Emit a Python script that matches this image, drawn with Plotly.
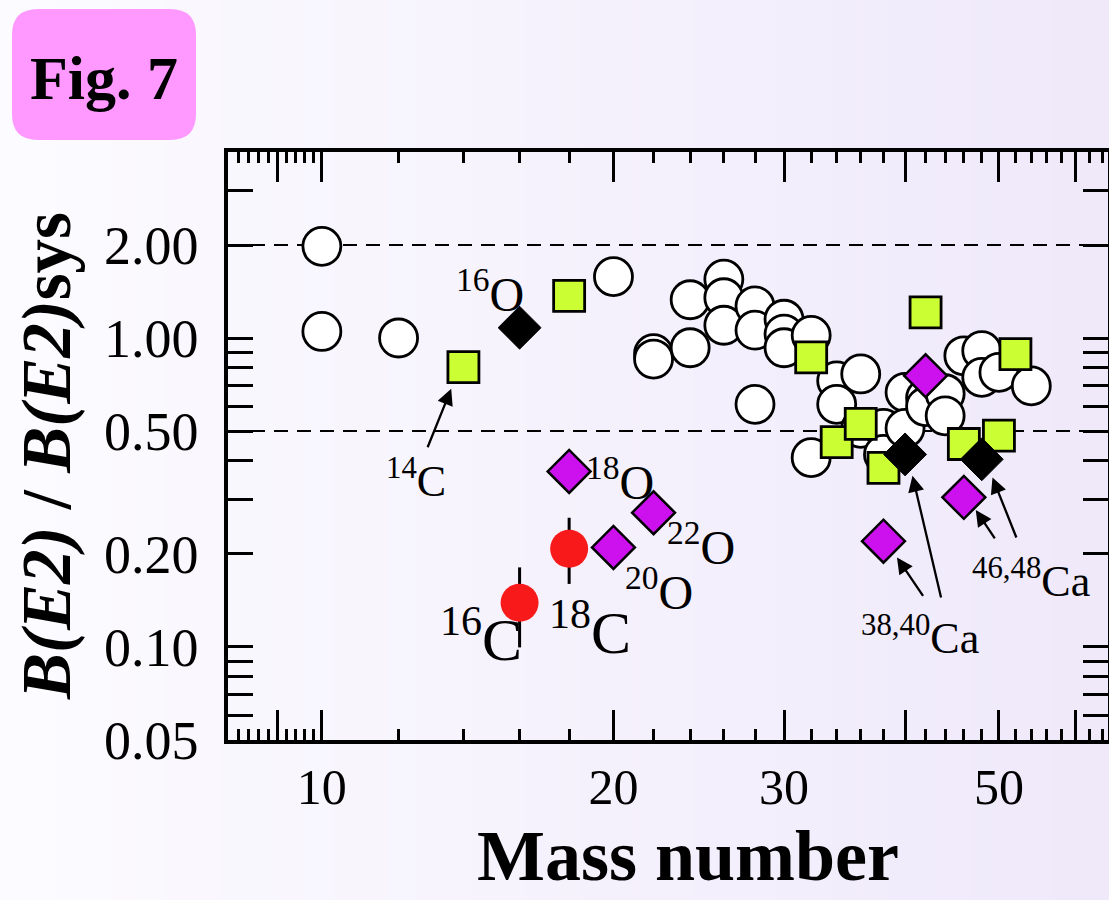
import math
import plotly.graph_objects as go

# ---------------- data ----------------
circle_A = [10, 10, 12, 20, 22, 22, 24, 24, 26, 26, 26, 28, 28, 28, 30, 30, 30,
            32, 32, 34, 34, 36, 36, 38, 38, 40, 40, 42, 42, 44, 44, 46, 48, 48, 50, 54]
circle_R = [1.98, 1.05, 1.00, 1.58, 0.89, 0.855, 1.33, 0.93, 1.55, 1.35, 1.10, 1.27, 1.06, 0.61,
            1.15, 1.03, 0.93, 1.02, 0.41, 0.727, 0.61, 0.765, 0.51, 0.51, 0.42, 0.667, 0.51,
            0.64, 0.60, 0.66, 0.56, 0.876, 0.91, 0.746, 0.774, 0.70]

square_A = [14, 18, 32, 34, 36, 38, 42, 46, 50, 52]
square_R = [0.805, 1.37, 0.866, 0.46, 0.527, 0.38, 1.21, 0.454, 0.483, 0.887]

black_A = [16, 40, 48]
black_R = [1.08, 0.42, 0.405]

purple_A = [18, 20, 22, 38, 42, 46]
purple_R = [0.37, 0.21, 0.272, 0.22, 0.755, 0.305]

red_A = [16, 18]
red_R = [0.139, 0.208]
red_hi = [0.181, 0.262]
red_lo = [0.0997, 0.160]

# labels: text, x (mass number), y (ratio), font size
label_text = ["<sup>16</sup>O", "<sup>14</sup>C", "<sup>18</sup>O", "<sup>22</sup>O", "<sup>20</sup>O",
              "<sup>16</sup>C", "<sup>18</sup>C", "<sup>38,40</sup>Ca", "<sup>46,48</sup>Ca"]
label_x = [14.9, 12.5, 20.3, 24.6, 22.3, 14.6, 18.9, 41.4, 53.9]
label_y = [1.42, 0.35, 0.35, 0.216, 0.154, 0.109, 0.115, 0.109, 0.166]
label_size = [48, 44, 48, 48, 48, 60, 60, 44, 44]

# arrows: tail (x, y) -> head (x, y)
arrow_tail_x = [12.84, 41.85, 43.61, 49.63, 52.19]
arrow_tail_y = [0.438, 0.1447, 0.1430, 0.2220, 0.2236]
arrow_head_x = [13.60, 39.24, 40.71, 47.32, 49.24]
arrow_head_y = [0.685, 0.1950, 0.3584, 0.2776, 0.3538]

x_labeled = [10, 20, 30, 50]
x_labeled_text = ["10", "20", "30", "50"]
x_long_unlabeled = [9, 40, 60]
x_minor = [8.2, 8.4, 8.6, 8.8, 9.2, 9.4, 9.6, 9.8, 12, 14, 16, 18, 22, 24, 26, 28,
           32, 34, 36, 38, 42, 44, 46, 48, 52, 54, 56, 58, 62, 64]
y_major = [0.05, 0.1, 0.2, 0.5, 1.0, 2.0]
y_major_text = ["0.05", "0.10", "0.20", "0.50", "1.00", "2.00"]
y_minor = [0.06, 0.07, 0.08, 0.09, 0.3, 0.4, 0.6, 0.7, 0.8, 0.9, 3, 4]
ref_lines = [2.0, 0.5]

SERIF = "Liberation Serif, Times New Roman, serif"

# ---------------- layout geometry ----------------
W, H = 1109, 900
ML, MR, MT, MB = 228, 1, 152, 160
PW, PH = W - ML - MR, H - MT - MB
XR = [math.log10(8), math.log10(64.8)]
YR = [math.log10(0.05), math.log10(4)]


def px2paper_x(px):
    return (px - ML) / PW


def px2paper_y(py):
    return (H - MB - py) / PH


fig = go.Figure()

fig.add_trace(go.Scatter(
    x=circle_A, y=circle_R, mode="markers",
    marker=dict(symbol="circle", size=38, color="white", line=dict(color="black", width=2.8)),
    showlegend=False))
fig.add_trace(go.Scatter(
    x=square_A, y=square_R, mode="markers",
    marker=dict(symbol="square", size=31, color="#ccff33", line=dict(color="black", width=2.8)),
    showlegend=False))
fig.add_trace(go.Scatter(
    x=black_A, y=black_R, mode="markers",
    marker=dict(symbol="diamond", size=33, color="black", line=dict(color="black", width=1)),
    showlegend=False))
fig.add_trace(go.Scatter(
    x=purple_A, y=purple_R, mode="markers",
    marker=dict(symbol="diamond", size=33, color="#cc11ee", line=dict(color="black", width=2.5)),
    showlegend=False))
fig.add_trace(go.Scatter(
    x=red_A, y=red_R, mode="markers",
    error_y=dict(type="data", symmetric=False,
                 array=[h - r for h, r in zip(red_hi, red_R)],
                 arrayminus=[r - l for r, l in zip(red_R, red_lo)],
                 color="black", thickness=3, width=0),
    marker=dict(symbol="circle", size=38, color="#f81a1a", line=dict(width=0)),
    showlegend=False))
# invisible trace on the second x axis so it is drawn
fig.add_trace(go.Scatter(x=[10], y=[1], xaxis="x2", yaxis="y", mode="markers",
                         marker=dict(opacity=0), hoverinfo="skip", showlegend=False))

# ---------------- shapes ----------------
shapes = []
n = 40
x_left, x_right = px2paper_x(0), px2paper_x(W)
for i in range(n):
    t = i / (n - 1)
    r = round(252 + (239 - 252) * t)
    g = round(251 + (233 - 251) * t)
    b = round(255 + (250 - 255) * t)
    shapes.append(dict(type="rect", xref="paper", yref="paper", layer="below",
                       x0=x_left + (x_right - x_left) * i / n,
                       x1=x_left + (x_right - x_left) * (i + 1) / n + 0.002,
                       y0=px2paper_y(H), y1=px2paper_y(0),
                       line=dict(width=0), fillcolor=f"rgb({r},{g},{b})"))
bx0, bx1, by0, by1, rad = 12, 196, 9, 140, 26
X = px2paper_x
Y = px2paper_y
path = (f"M {X(bx0 + rad)},{Y(by0)} L {X(bx1 - rad)},{Y(by0)} "
        f"Q {X(bx1)},{Y(by0)} {X(bx1)},{Y(by0 + rad)} L {X(bx1)},{Y(by1 - rad)} "
        f"Q {X(bx1)},{Y(by1)} {X(bx1 - rad)},{Y(by1)} L {X(bx0 + rad)},{Y(by1)} "
        f"Q {X(bx0)},{Y(by1)} {X(bx0)},{Y(by1 - rad)} L {X(bx0)},{Y(by0 + rad)} "
        f"Q {X(bx0)},{Y(by0)} {X(bx0 + rad)},{Y(by0)} Z")
shapes.append(dict(type="path", xref="paper", yref="paper", path=path,
                   fillcolor="#ff99ff", line=dict(width=0), layer="below"))
for v in ref_lines:
    shapes.append(dict(type="line", xref="paper", yref="y", x0=0, x1=1,
                       y0=v, y1=v, line=dict(color="black", width=2, dash="14px,9px"),
                       layer="below"))

# ---------------- annotations ----------------
ann = []
for t, xv, yv, s in zip(label_text, label_x, label_y, label_size):
    ann.append(dict(text=t, x=math.log10(xv), y=math.log10(yv), xref="x", yref="y",
                    showarrow=False, font=dict(family=SERIF, size=s, color="black"),
                    xanchor="center", yanchor="middle"))
for tx, ty, hx, hy in zip(arrow_tail_x, arrow_tail_y, arrow_head_x, arrow_head_y):
    ann.append(dict(text="", x=math.log10(hx), y=math.log10(hy), xref="x", yref="y",
                    ax=math.log10(tx), ay=math.log10(ty), axref="x", ayref="y",
                    showarrow=True, arrowhead=2, arrowsize=1.4, arrowwidth=2.3,
                    arrowcolor="black", standoff=0))
ann.append(dict(text="<b>Fig. 7</b>", x=px2paper_x(104), y=px2paper_y(78),
                xref="paper", yref="paper", showarrow=False,
                xanchor="center", yanchor="middle",
                font=dict(family=SERIF, size=62, color="black")))
ann.append(dict(text="<b><i>B(E2)</i> / <i>B(E2)</i>sys</b>", x=px2paper_x(47), y=px2paper_y(456),
                xref="paper", yref="paper", showarrow=False, textangle=-90,
                xanchor="center", yanchor="middle",
                font=dict(family=SERIF, size=69, color="black")))
ann.append(dict(text="<b>Mass number</b>", x=px2paper_x(688), y=px2paper_y(856),
                xref="paper", yref="paper", showarrow=False,
                xanchor="center", yanchor="middle",
                font=dict(family=SERIF, size=72, color="black")))

fig.update_layout(
    width=W, height=H,
    margin=dict(l=ML, r=MR, t=MT, b=MB, pad=0, autoexpand=False),
    paper_bgcolor="#f6f3fc",
    plot_bgcolor="rgba(0,0,0,0)",
    shapes=shapes,
    annotations=ann,
    showlegend=False,
    xaxis=dict(
        type="log", range=XR,
        tickmode="array", tickvals=x_labeled, ticktext=x_labeled_text,
        ticks="inside", ticklen=30, tickwidth=3, tickcolor="black",
        minor=dict(tickmode="array", tickvals=x_minor, ticks="inside", ticklen=11,
                   tickwidth=2.5, tickcolor="black", showgrid=False),
        showline=True, linewidth=3.5, linecolor="black", mirror="allticks",
        showgrid=False, zeroline=False,
        tickfont=dict(family=SERIF, size=50, color="black"), ticklabelstandoff=0,
    ),
    xaxis2=dict(
        type="log", range=XR, overlaying="x", anchor="y", side="bottom",
        tickmode="array", tickvals=x_long_unlabeled, showticklabels=False,
        ticks="inside", ticklen=30, tickwidth=3, tickcolor="black",
        showline=True, linewidth=3.5, linecolor="black", mirror="allticks",
        showgrid=False, zeroline=False,
    ),
    yaxis=dict(
        type="log", range=YR,
        tickmode="array", tickvals=y_major, ticktext=y_major_text,
        ticks="inside", ticklen=25, tickwidth=3, tickcolor="black",
        minor=dict(tickmode="array", tickvals=y_minor, ticks="inside", ticklen=10,
                   tickwidth=2.5, tickcolor="black", showgrid=False),
        showline=True, linewidth=3.5, linecolor="black", mirror="allticks",
        showgrid=False, zeroline=False,
        tickfont=dict(family=SERIF, size=54, color="black"), ticklabelstandoff=15,
    ),
)

fig.write_html("out.html", config={"displayModeBar": False},
               post_script="document.body.style.margin='0px';")
